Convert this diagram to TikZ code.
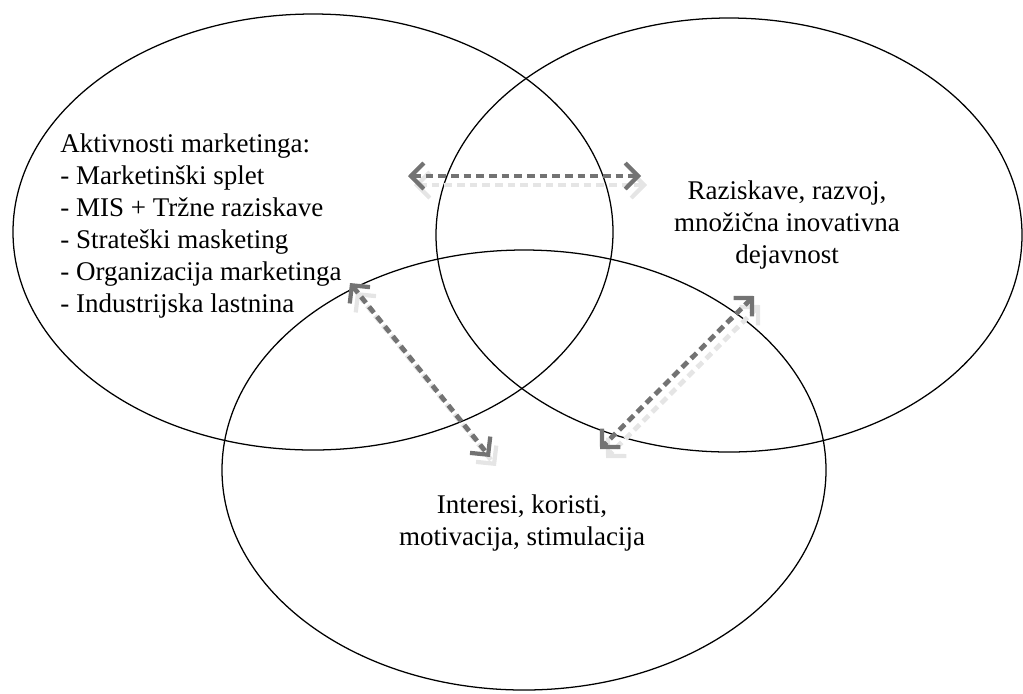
\documentclass[tikz,border=0pt]{standalone}
\usepackage{fontspec}
\setmainfont{Liberation Serif}
\usetikzlibrary{arrows.meta}
\tikzset{
  krog/.style={line width=0.9pt},
  puscica/.style={draw=black!55, line width=3.4pt, dash pattern=on 5.5pt off 3.5pt,
    {Straight Barb[length=3.2mm,width=6.5mm,line width=3pt]}-{Straight Barb[length=3.2mm,width=6.5mm,line width=3pt]}},
  senca/.style={puscica, draw=black!10},
  besedilo/.style={font=\fontsize{19.2}{22.7}\selectfont, inner sep=0pt}
}

\begin{document}
\begin{tikzpicture}[x=0.025cm, y=-0.025cm]
\useasboundingbox (0,0) rectangle (1023,693);
\draw[krog] (313,232) ellipse [x radius=300, y radius=218];
\draw[krog] (729,235) ellipse [x radius=293, y radius=217];
\draw[krog] (524,470) ellipse [x radius=302, y radius=220];

\node[besedilo, anchor=west, align=left] (trzenje) at (60,226) {Aktivnosti marketinga:\\- Marketinški splet\\- MIS + Tržne raziskave\\- Strateški masketing\\- Organizacija marketinga\\- Industrijska lastnina};
\node[besedilo, align=center] (razvoj) at (787,225) {Raziskave, razvoj,\\množična inovativna\\dejavnost};
\node[besedilo, align=center] (interesi) at (522,523) {Interesi, koristi,\\motivacija, stimulacija};

\coordinate (h1) at (408,176);
\coordinate (h2) at (641,176);
\coordinate (l1) at (350,283);
\coordinate (l2) at (490,457);
\coordinate (d1) at (754,296);
\coordinate (d2) at (600,449);

\draw[senca] ([shift={(6,9)}]h1) -- ([shift={(6,9)}]h2);
\draw[senca] ([shift={(6,9)}]l1) -- ([shift={(6,9)}]l2);
\draw[senca] ([shift={(6,9)}]d1) -- ([shift={(6,9)}]d2);
\draw[puscica] (h1) -- (h2);
\draw[puscica] (l1) -- (l2);
\draw[puscica] (d1) -- (d2);
\end{tikzpicture}
\end{document}
